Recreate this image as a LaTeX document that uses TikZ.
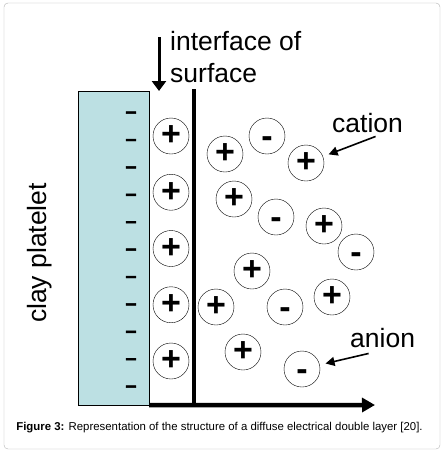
\documentclass[tikz,border=0pt]{standalone}
\usepackage{fontspec}
\setmainfont{Liberation Sans}
\newfontface\chargefont[FakeBold=2]{Liberation Sans Bold}
\usetikzlibrary{arrows.meta,positioning}
\definecolor{clayBlue}{RGB}{188,224,227}
\colorlet{frameGrey}{black!30}
\tikzset{
  big text/.style={font=\fontsize{26.5}{30}\selectfont,inner sep=0pt},
  ion/.style={draw,circle,thin,minimum size=36pt,inner sep=0pt,font=\fontsize{34}{34}\selectfont\bfseries},
  pos ion/.style={ion},
  neg ion/.style={ion,text height=22pt,text depth=0pt},
  surface charge/.style={font=\fontsize{20}{20}\chargefont,inner sep=0pt,anchor=base},
  pointer/.style={-{Triangle[length=9pt,width=9pt]},line width=1.6pt,shorten >=6pt},
}
\begin{document}
\begin{tikzpicture}[x=1pt,y=-1pt]
\useasboundingbox (0,0) rectangle (443,451);
\draw[frameGrey,rounded corners=4pt] (4,3) rectangle (440,449);
% the platelet and its charges
\node[draw,fill=clayBlue,minimum width=71pt,minimum height=314pt,inner sep=0pt] (clay) at (113.5,248) {};
\foreach \k in {0,...,10}
  \node[surface charge] (sc\k) at (131,{118+27.4*\k}) {–};
\node[big text,rotate=90] (claylabel) at (40,253) {clay platelet};
% fixed layer
\foreach \k in {0,...,4}
  \node[pos ion] (fix\k) at (171,{136+56.25*\k}) {+};
% diffuse layer
\foreach \x/\y/\kind/\s [count=\i] in {225/154/pos/+,267/136/neg/-,306/163/pos/+,234/199/pos/+,
    276/217/neg/-,324/226/pos/+,356/252/neg/-,252/271/pos/+,216/307/pos/+,285/307/neg/-,
    332/297/pos/+,243/352/pos/+,302/369/neg/-}
  \node[\kind\space ion] (ion\i) at (\x,\y) {\s};
% interface
\coordinate (ihpTop) at (194,89);
\coordinate (ihpBottom) at (194,405);
\draw[line width=3.5pt] (ihpTop) -- (ihpBottom);
\coordinate (axisEnd) at (375,405);
\draw[line width=4.5pt,-{Triangle[length=13pt,width=14pt]}] (clay.south east) -- (axisEnd);
\node[big text,anchor=base west] (iface) at (170,50) {interface of};
\node[big text,anchor=base west] (surf) at (170,82) {surface};
\coordinate (ifaceTop) at (159,37);
\coordinate (ifaceTip) at (159,91);
\draw[line width=3pt,-{Triangle[length=10pt,width=14pt]}] (ifaceTop) -- (ifaceTip);
% labels
\node[big text,anchor=base west] (cation) at (332,132) {cation};
\node[big text,anchor=base west] (anion) at (350,347) {anion};
\draw[pointer] ([shift={(8pt,-4pt)}]cation.south) -- (ion3);
\draw[pointer] ([shift={(-14pt,-6pt)}]anion.south) -- (ion13);
% caption
\node[font=\fontsize{11.4}{13}\selectfont] (caption) at (219.5,428) {\textbf{Figure 3:} Representation of the structure of a diffuse electrical double layer [20].};
\end{tikzpicture}
\end{document}
